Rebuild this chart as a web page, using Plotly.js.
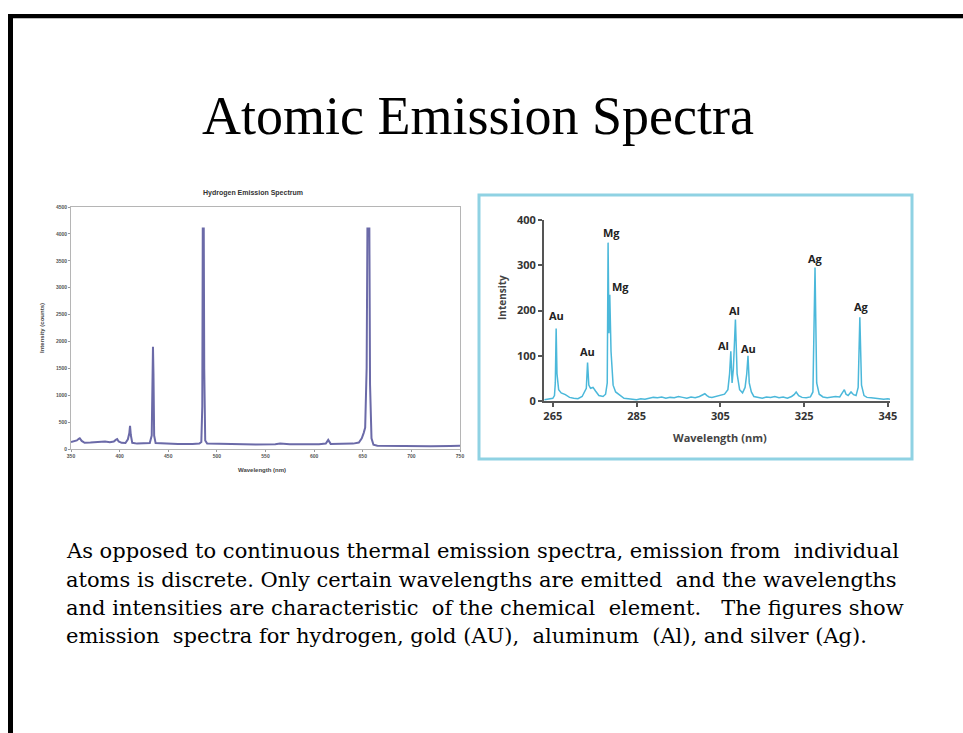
<!DOCTYPE html>
<html>
<head>
<meta charset="utf-8">
<script src="https://cdn.plot.ly/plotly-3.0.1.min.js"></script>
<style>
html,body{margin:0;padding:0;background:#fff;}
#chart{width:963px;height:733px;}
</style>
</head>
<body>
<div id="chart"></div>
<script>
// ---------- Data: Hydrogen emission spectrum ----------
const hWavelength = [350,353,356,358,359,361,364,370,375,380,385,390,394,396,397.5,399,402,406,408.5,410,410.7,411.5,413,418,425,431,433,434.3,434.8,435.5,437,445,460,475,482,484,485,485.5,486.5,487,488,490,500,520,540,560,565,575,590,605,612,614.5,617,630,640,646,649,651,652.5,654,654.8,656.8,657.5,659,661,665,680,700,720,740,750];
const hIntensity  = [130,140,160,190,200,150,115,120,125,130,140,125,140,170,185,140,115,110,180,300,430,260,115,100,100,110,250,1900,1400,250,110,100,95,95,100,130,800,4100,4100,1500,160,100,95,90,85,90,100,90,85,90,100,170,95,95,100,120,200,300,400,1500,4100,4100,1200,200,80,60,55,50,50,55,60];

const hTitle = "Hydrogen Emission Spectrum";
const hXTitle = "Wavelength (nm)";
const hYTitle = "Intensity (counts)";
const hXTicks = [350,400,450,500,550,600,650,700,750];
const hYTicks = [0,500,1000,1500,2000,2500,3000,3500,4000,4500];

// ---------- Data: Au / Mg / Al / Ag emission spectrum ----------
const mWavelength = [263,264,265,265.4,265.6,265.8,266.0,266.4,267,268,269,270,271,272,272.6,273.0,273.3,273.6,274.0,274.6,275.2,276,277,277.6,278.0,278.2,278.4,278.6,278.9,279.4,280,281,282,283,284,285,286,287,288,289,290,291,292,293,294,295,296,297,298,299,300,300.8,301.3,301.8,302.3,303,304,305,306,306.8,307.2,307.5,307.8,308.1,308.6,309.0,309.6,310.3,310.9,311.3,311.6,311.9,312.4,313,314,315,316,317,318,319,320,321,322,322.6,323.1,323.7,324.5,325.5,326.5,327.1,327.6,328.0,328.6,329.5,330.5,331.5,332.5,333.5,334.2,334.6,335.0,335.5,336.2,336.8,337.4,337.9,338.3,338.7,339.3,340,341,342,343,344,345,345.5];
const mIntensity  = [3,4,6,12,40,160,60,25,18,14,8,6,5,10,22,28,85,35,28,30,22,12,10,15,40,350,150,235,110,35,20,12,6,5,4,3,5,4,6,8,7,9,6,8,7,10,8,6,9,7,10,14,16,12,9,8,10,12,15,25,60,110,40,70,180,60,25,18,30,60,100,40,20,10,8,6,9,8,10,7,9,6,10,14,20,12,8,7,9,20,295,40,15,9,7,8,10,9,18,25,15,12,20,14,12,30,185,35,12,8,7,6,5,4,5,4];
const mLabels = ["Au","Au","Mg","Mg","Al","Al","Au","Ag","Ag"];
const mLabelX = [266.0,273.4,279.0,281.2,305.8,308.4,311.7,327.6,338.6];
const mLabelY = [190,110,372,252,122,200,117,316,209];
const mXTitle = "Wavelength (nm)";
const mYTitle = "Intensity";
const mXTicks = [265,285,305,325,345];
const mYTicks = [0,100,200,300,400];

// ---------- Slide texts ----------
const slideTitle = "Atomic Emission Spectra";
const bodyLines = [
  "As opposed to continuous thermal emission spectra, emission from  individual",
  "atoms is discrete. Only certain wavelengths are emitted  and the wavelengths",
  "and intensities are characteristic  of the chemical  element.   The figures show",
  "emission  spectra for hydrogen, gold (AU),  aluminum  (Al), and silver (Ag)."
];

// ---------- Layout helpers (pixel -> paper) ----------
const W = 963, H = 733;
const px = x => x / W;
const py = y => 1 - y / H;

const traces = [
  {x: hWavelength, y: hIntensity, type: 'scatter', mode: 'lines',
   line: {color: '#6b6aa8', width: 2}, xaxis: 'x', yaxis: 'y', hoverinfo: 'skip'},
  {x: mWavelength, y: mIntensity, type: 'scatter', mode: 'lines',
   line: {color: '#4bb8da', width: 1.5}, xaxis: 'x2', yaxis: 'y2', hoverinfo: 'skip'}
];

const annotations = [
  {text: slideTitle, xref: 'paper', yref: 'paper', x: px(478), y: py(116),
   xanchor: 'center', yanchor: 'middle', showarrow: false,
   font: {family: 'Liberation Serif', size: 54, color: '#000'}},
  {text: hTitle, xref: 'paper', yref: 'paper', x: px(253), y: py(193),
   xanchor: 'center', yanchor: 'middle', showarrow: false,
   font: {family: 'Liberation Sans', size: 7, weight: 'bold', color: '#333'}},
  {text: hYTitle, xref: 'paper', yref: 'paper', x: px(42), y: py(328),
   xanchor: 'center', yanchor: 'middle', showarrow: false, textangle: -90,
   font: {family: 'Liberation Sans', size: 6, weight: 'bold', color: '#444'}},
  {text: hXTitle, xref: 'paper', yref: 'paper', x: px(262), y: py(470),
   xanchor: 'center', yanchor: 'middle', showarrow: false,
   font: {family: 'Liberation Sans', size: 6, weight: 'bold', color: '#444'}},
  {text: mYTitle, xref: 'paper', yref: 'paper', x: px(502), y: py(298),
   xanchor: 'center', yanchor: 'middle', showarrow: false, textangle: -90,
   font: {family: 'Open Sans', size: 10, weight: 'bold', color: '#444'}},
  {text: mXTitle, xref: 'paper', yref: 'paper', x: px(720), y: py(438),
   xanchor: 'center', yanchor: 'middle', showarrow: false,
   font: {family: 'Open Sans', size: 11, weight: 'bold', color: '#444'}}
];
mLabels.forEach((t, i) => annotations.push({
  text: t, xref: 'x2', yref: 'y2', x: mLabelX[i], y: mLabelY[i],
  xanchor: 'center', yanchor: 'middle', showarrow: false,
  font: {family: 'Open Sans', size: 11, weight: 'bold', color: '#222'}
}));
const lineY = [551, 580, 608, 636];
bodyLines.forEach((t, i) => annotations.push({
  text: t, xref: 'paper', yref: 'paper', x: px(64), y: py(lineY[i]),
  xanchor: 'left', yanchor: 'middle', showarrow: false,
  font: {family: 'DejaVu Serif', size: 21, color: '#000'}
}));

const shapes = [
  {type: 'line', xref: 'paper', yref: 'paper', x0: px(8), x1: 1, y0: py(16), y1: py(16),
   line: {color: '#000', width: 4}},
  {type: 'line', xref: 'paper', yref: 'paper', x0: px(13), x1: 1, y0: py(18.5), y1: py(18.5),
   line: {color: '#bbb', width: 1}},
  {type: 'line', xref: 'paper', yref: 'paper', x0: px(10.5), x1: px(10.5), y0: py(14), y1: 0,
   line: {color: '#000', width: 5}},
  {type: 'rect', xref: 'paper', yref: 'paper', x0: px(479), x1: px(912), y0: py(195), y1: py(459),
   line: {color: '#8fd2e3', width: 3}}
];

const layout = {
  width: W, height: H,
  margin: {l: 0, r: 0, t: 0, b: 0},
  paper_bgcolor: '#fff', plot_bgcolor: 'rgba(0,0,0,0)',
  showlegend: false,
  xaxis: {domain: [px(71), px(460)], range: [350, 750], tickvals: hXTicks,
    showgrid: false, zeroline: false, showline: true, mirror: true, linecolor: '#b5b5b5', linewidth: 1,
    ticks: 'outside', ticklen: 2, tickcolor: '#999',
    tickfont: {family: 'Liberation Sans', size: 5, weight: 'bold', color: '#555'}, anchor: 'y'},
  yaxis: {domain: [py(449), py(207)], range: [0, 4500], tickvals: hYTicks,
    showgrid: false, zeroline: false, showline: true, mirror: true, linecolor: '#b5b5b5', linewidth: 1,
    ticks: 'outside', ticklen: 2, tickcolor: '#999',
    tickfont: {family: 'Liberation Sans', size: 5, weight: 'bold', color: '#555'}, anchor: 'x'},
  xaxis2: {domain: [px(544), px(890)], range: [262.9, 345.5], tickvals: mXTicks,
    showgrid: false, zeroline: false, showline: true, linecolor: '#555', linewidth: 2,
    ticks: 'outside', ticklen: 4, tickwidth: 2, tickcolor: '#555',
    tickfont: {family: 'Open Sans', size: 11, weight: 'bold', color: '#333'}, anchor: 'y2'},
  yaxis2: {domain: [py(401), py(220)], range: [0, 400], tickvals: mYTicks,
    showgrid: false, zeroline: false, showline: true, linecolor: '#555', linewidth: 2,
    ticks: 'outside', ticklen: 4, tickwidth: 2, tickcolor: '#555',
    tickfont: {family: 'Open Sans', size: 11, weight: 'bold', color: '#333'}, anchor: 'x2'},
  annotations: annotations,
  shapes: shapes
};

Plotly.newPlot('chart', traces, layout, {staticPlot: true, displayModeBar: false});
</script>
</body>
</html>
